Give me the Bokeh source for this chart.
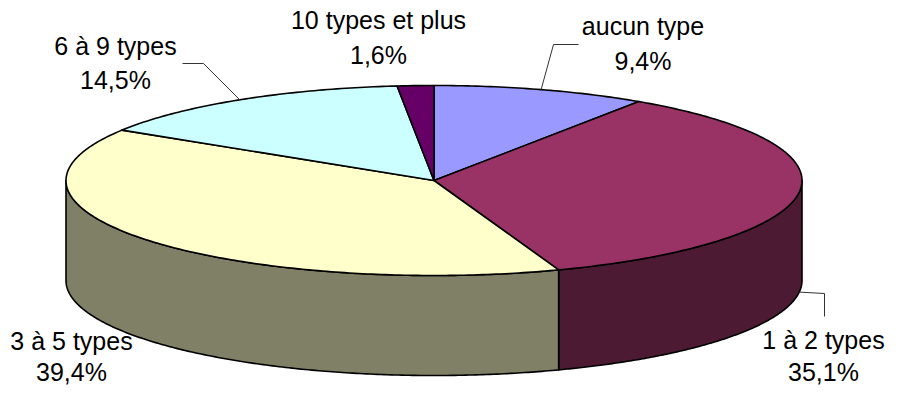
import numpy as np
from bokeh.plotting import figure
from bokeh.models import Range1d
from bokeh.core.properties import value
from bokeh.embed import file_html
from bokeh.resources import INLINE

# ---- data ----
categories = ["aucun type", "1 à 2 types", "3 à 5 types", "6 à 9 types", "10 types et plus"]
shares = [9.4, 35.1, 39.4, 14.5, 1.6]
top_colors = ["#9999FF", "#993366", "#FFFFCC", "#CCFFFF", "#660066"]
side_colors = ["#4D4D80", "#4D1A33", "#808066", "#668080", "#330033"]

# ---- geometry (pixel space of the picture) ----
CX, CY, RX, RY, DEPTH = 433.5, 180.0, 368.0, 95.0, 100.0

# label anchors: centre x, baseline of line 1, baseline of line 2
label_pos = [(642.5, 25.5, 60.5), (823.0, 339.0, 371.0), (71.0, 340.0, 371.0),
             (115.0, 45.0, 79.0), (378.0, 19.0, 54.0)]
# leader lines: (elbow, end) or None
leaders = [((553.0, 44.0), (578.0, 44.0)), ((824.0, 293.0), (824.0, 316.0)), None,
           ((203.0, 63.0), (182.0, 63.0)), None]


def px(t):
    return CX + RX * np.sin(t)


def py(t):
    return CY - RY * np.cos(t)


p = figure(width=885, height=385, output_backend="svg", toolbar_location=None,
           x_range=Range1d(0, 885), y_range=Range1d(385, 0), min_border=0)
p.axis.visible = False
p.grid.visible = False
p.outline_line_color = None
p.background_fill_color = "white"
p.border_fill_color = "white"

total = sum(shares)
bounds = np.concatenate([[0.0], np.cumsum(shares)]) / total * 2 * np.pi

# side walls (front half only)
sx, sy, sc = [], [], []
for i in range(len(shares)):
    a = max(bounds[i], np.pi / 2)
    b = min(bounds[i + 1], 3 * np.pi / 2)
    if a < b:
        t = np.linspace(a, b, 200)
        sx.append(np.concatenate([px(t), px(t[::-1])]))
        sy.append(np.concatenate([py(t), py(t[::-1]) + DEPTH]))
        sc.append(side_colors[i])
p.patches(sx, sy, fill_color=sc, line_color="black", line_width=1.6, line_join="round")

# top faces
tx, ty = [], []
for i in range(len(shares)):
    n = max(int((bounds[i + 1] - bounds[i]) * 80), 8)
    t = np.linspace(bounds[i], bounds[i + 1], n)
    tx.append(np.concatenate([[CX], px(t)]))
    ty.append(np.concatenate([[CY], py(t)]))
p.patches(tx, ty, fill_color=top_colors, line_color="black", line_width=1.6, line_join="round")

# leader lines
lx, ly = [], []
for i, ld in enumerate(leaders):
    if ld is None:
        continue
    m = (bounds[i] + bounds[i + 1]) / 2
    ax, ay = px(m), py(m)
    if np.cos(m) < 0:
        ay += DEPTH
    lx.append([ax, ld[0][0], ld[1][0]])
    ly.append([ay, ld[0][1], ld[1][1]])
p.multi_line(lx, ly, line_color="#333333", line_width=1)

# labels
pct = [f"{v:.1f}".replace(".", ",") + "%" for v in shares]
font = value("Liberation Sans")
p.text(x=[lp[0] for lp in label_pos], y=[lp[1] for lp in label_pos], text=categories,
       text_font=font, text_font_size="25px", text_align="center",
       text_baseline="alphabetic", text_color="black")
p.text(x=[lp[0] for lp in label_pos], y=[lp[2] for lp in label_pos], text=pct,
       text_font=font, text_font_size="25px", text_align="center",
       text_baseline="alphabetic", text_color="black")

open("out.html", "w").write(file_html(p, INLINE))
